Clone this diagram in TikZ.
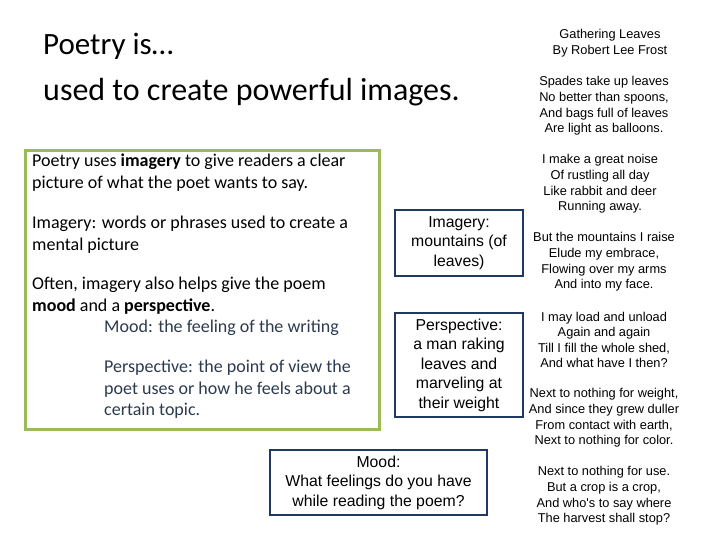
\documentclass[tikz,border=0pt]{standalone}
\usepackage{fontspec}
\setmainfont{Carlito}
\newfontfamily\arial{Liberation Sans}
\definecolor{gbox}{HTML}{9BBB59}
\definecolor{navy}{HTML}{1F3864}
\definecolor{slate}{HTML}{2B3A4E}
\begin{document}
\begin{tikzpicture}[x=1pt,y=-1pt,
  nbox/.style={draw=navy,line width=2pt,align=center,font=\arial\fontsize{15.8}{19.5}\selectfont,inner sep=2pt},
  lt/.style={anchor=north west,align=left,font=\fontsize{18}{21.5}\selectfont,inner sep=0pt},
  poem/.style={align=center,font=\arial\fontsize{12.8}{15.6}\selectfont,inner sep=0pt}]
\useasboundingbox (0,0) rectangle (720,540);
\node[anchor=west,inner sep=0pt,font=\fontsize{31}{34}\selectfont] (t1) at (43,46) {Poetry is…};
\node[anchor=west,inner sep=0pt,font=\fontsize{32}{36}\selectfont] (t2) at (43,92) {used to create powerful images.};
\draw[gbox,line width=3pt] (25,151) rectangle (379,429);
\node[lt] (a) at (32,154) {Poetry uses \textbf{imagery} to give readers a clear\\picture of what the poet wants to say.};
\node[lt] (b) at (32,216) {Imagery: words or phrases used to create a\\mental picture};
\node[lt] (c) at (32,277) {Often, imagery also helps give the poem\\\textbf{mood} and a \textbf{perspective}.};
\node[lt,text=slate] (d) at (104,320) {Mood: the feeling of the writing};
\node[lt,text=slate] (e) at (104,360) {Perspective: the point of view the\\poet uses or how he feels about a\\certain topic.};
\node[nbox,minimum width=128,minimum height=66] (im) at (459,243) {Imagery:\\mountains (of\\leaves)};
\node[nbox,minimum width=128,minimum height=104] (pe) at (459,365) {Perspective:\\a man raking\\leaves and\\marveling at\\their weight};
\node[nbox,minimum width=217,minimum height=65] (mo) at (378.5,482.5) {Mood:\\What feelings do you have\\while reading the poem?};
\node[poem] (h) at (610,43) {Gathering Leaves\\By Robert Lee Frost};
\node[poem] (p1) at (604,106) {Spades take up leaves\\No better than spoons,\\And bags full of leaves\\Are light as balloons.};
\node[poem] (p2) at (600,184) {I make a great noise\\Of rustling all day\\Like rabbit and deer\\Running away.};
\node[poem] (p3) at (604,262) {But the mountains I raise\\Elude my embrace,\\Flowing over my arms\\And into my face.};
\node[poem] (p4) at (604,340) {I may load and unload\\Again and again\\Till I fill the whole shed,\\And what have I then?};
\node[poem] (p5) at (604,418) {Next to nothing for weight,\\And since they grew duller\\From contact with earth,\\Next to nothing for color.};
\node[poem] (p6) at (604,496) {Next to nothing for use.\\But a crop is a crop,\\And who's to say where\\The harvest shall stop?};
\end{tikzpicture}
\end{document}
